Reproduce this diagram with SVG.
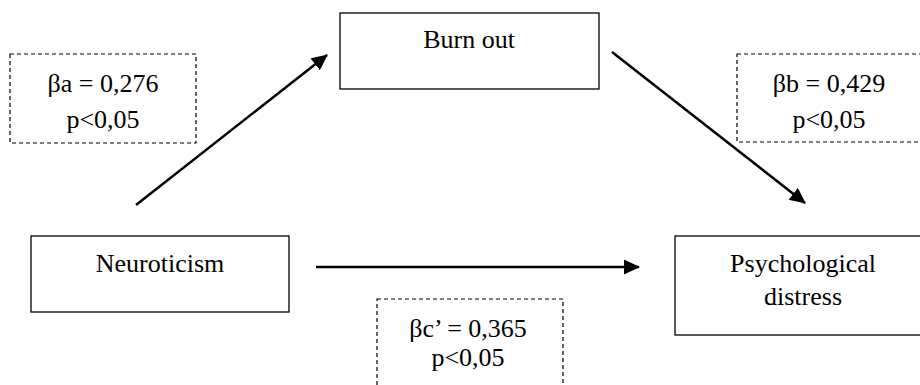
<svg xmlns="http://www.w3.org/2000/svg" width="920" height="385" viewBox="0 0 920 385">
<style>
.node{fill:#fff;stroke:#000;stroke-width:1.3}
.lab{fill:none;stroke:#000;stroke-width:1.2;stroke-dasharray:4,3}
.t{font-family:'Liberation Serif','DejaVu Serif',serif;font-size:26px;fill:#000;text-anchor:middle}
.c{stroke:#000;stroke-width:2.5;fill:none}
</style>
<defs>
<marker id="ah" markerUnits="userSpaceOnUse" markerWidth="16" markerHeight="16" refX="15" refY="7.5" orient="auto">
<path d="M0,0 L16,7.5 L0,15 z" fill="#000"/>
</marker>
</defs>
<rect width="920" height="385" fill="#fff"/>
<g id="label-a">
<rect class="lab" x="10" y="54" width="186" height="89"/>
<text class="t" x="103" y="92" font-family="Liberation Serif, serif">βa = 0,276</text>
<text class="t" x="103" y="128" font-family="Liberation Serif, serif">p&lt;0,05</text>
</g>
<g id="burnout">
<rect class="node" x="340" y="13" width="259" height="76"/>
<text class="t" x="469" y="48" font-family="Liberation Serif, serif">Burn out</text>
</g>
<g id="label-b">
<rect class="lab" x="737" y="54" width="190" height="88"/>
<text class="t" x="829" y="92" font-family="Liberation Serif, serif">βb = 0,429</text>
<text class="t" x="829" y="128" font-family="Liberation Serif, serif">p&lt;0,05</text>
</g>
<g id="neuroticism">
<rect class="node" x="31" y="236" width="258" height="76"/>
<text class="t" x="160" y="272" font-family="Liberation Serif, serif">Neuroticism</text>
</g>
<g id="distress">
<rect class="node" x="675" y="236" width="252" height="99"/>
<text class="t" x="803" y="272" font-family="Liberation Serif, serif">Psychological</text>
<text class="t" x="803" y="305" font-family="Liberation Serif, serif">distress</text>
</g>
<g id="label-c">
<rect class="lab" x="377" y="299" width="186" height="95"/>
<text class="t" x="468" y="337" font-family="Liberation Serif, serif">βc’ = 0,365</text>
<text class="t" x="468" y="366" font-family="Liberation Serif, serif">p&lt;0,05</text>
</g>
<g id="connectors">
<line class="c" x1="136" y1="205" x2="327" y2="55" marker-end="url(#ah)"/>
<line class="c" x1="612" y1="52" x2="805" y2="203" marker-end="url(#ah)"/>
<line class="c" x1="316" y1="267" x2="639" y2="267" marker-end="url(#ah)"/>
</g>
</svg>
